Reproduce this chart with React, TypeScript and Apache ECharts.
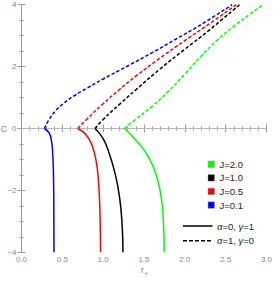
import React, { useEffect, useRef } from "react";
import * as echarts from "echarts";

const xTicks = [0, 0.5, 1, 1.5, 2, 2.5, 3];
const yTicks = [-4, -2, 0, 2, 4];

const legendLabels = ["J=2.0", "J=1.0", "J=0.5", "J=0.1"];
const legendColors = ["#00ff00", "#000000", "#ff0000", "#0000ff"];

// alpha=0, gamma=1 (solid)
const solidJ20 = [[1.26, 0], [1.4, -0.37], [1.55, -0.9], [1.65, -1.5], [1.71, -2.2], [1.738, -3.0], [1.748, -4]];
const solidJ10 = [[0.9, 0], [1.0, -0.33], [1.08, -0.85], [1.15, -1.5], [1.2, -2.2], [1.23, -3.0], [1.243, -4]];
const solidJ05 = [[0.69, 0], [0.79, -0.2], [0.86, -0.52], [0.91, -1.0], [0.94, -1.6], [0.957, -2.4], [0.965, -3.2], [0.968, -4]];
const solidJ01 = [[0.28, 0], [0.34, -0.15], [0.368, -0.42], [0.382, -0.8], [0.39, -1.3], [0.395, -2.2], [0.398, -4]];

// alpha=1, gamma=0 (dashed)
const dashedJ20 = [[1.26, 0], [1.4, 0.3], [1.6, 0.72], [1.8, 1.2], [2.0, 1.76], [2.2, 2.34], [2.4, 2.86], [2.6, 3.3], [2.8, 3.7], [2.96, 4.0]];
const dashedJ10 = [[0.9, 0], [1.0, 0.29], [1.2, 0.78], [1.4, 1.25], [1.7, 1.93], [2.0, 2.56], [2.3, 3.18], [2.67, 4.0]];
const dashedJ05 = [[0.69, 0], [0.8, 0.3], [1.0, 0.8], [1.2, 1.26], [1.4, 1.69], [1.7, 2.28], [2.0, 2.84], [2.3, 3.38], [2.63, 4.0]];
const dashedJ01 = [[0.28, 0], [0.34, 0.3], [0.42, 0.58], [0.52, 0.82], [0.64, 1.05], [0.8, 1.3], [1.0, 1.6], [1.3, 2.02], [1.6, 2.45], [1.9, 2.9], [2.2, 3.36], [2.58, 4.0]];

const solidSets = [solidJ20, solidJ10, solidJ05, solidJ01];
const dashedSets = [dashedJ20, dashedJ10, dashedJ05, dashedJ01];

const FRAME = "#9a9a9a";
const LABEL = "#888888";
const FONT = "Liberation Sans, Arial, sans-serif";

export default function App() {
  const ref = useRef<HTMLDivElement>(null);
  useEffect(() => {
    if (!ref.current) return;
    const chart = echarts.init(ref.current, null, { renderer: "svg" });
    const fmt = (v: number) => String(v).replace("-", "\u2212");
    const fmtX = (v: number) => v.toFixed(1);
    const baseAxis = {
      axisLine: { show: true, lineStyle: { color: FRAME, width: 1 } },
      axisTick: { show: true, inside: true, length: 4, lineStyle: { color: FRAME } },
      splitLine: { show: false },
    };
    const series: any[] = [
      {
        type: "line",
        data: [[0, 0], [3, 0]],
        symbol: "none",
        silent: true,
        lineStyle: { color: "#b8b8b8", width: 1 },
        z: 1,
      },
    ];
    solidSets.forEach((d, i) => {
      series.push({
        type: "line",
        data: d,
        symbol: "none",
        smooth: 0.5,
        lineStyle: { color: legendColors[i], width: 1.5 },
        z: 3,
      });
    });
    dashedSets.forEach((d, i) => {
      series.push({
        type: "line",
        data: d,
        symbol: "none",
        smooth: 0.5,
        lineStyle: { color: legendColors[i], width: 1.5, type: [3.5, 2] },
        z: 3,
      });
    });

    const graphic: any[] = [];
    legendLabels.forEach((lab, i) => {
      const cy = 164.3 + 13.6 * i;
      graphic.push({
        type: "rect",
        shape: { x: 208, y: cy - 3.3, width: 6.5, height: 6.5 },
        style: { fill: legendColors[i], stroke: "#9a9a9a", lineWidth: 0.5 },
      });
      graphic.push({
        type: "text",
        x: 219.5,
        y: cy,
        style: { text: lab, fill: "#222", font: `9.5px ${FONT}`, verticalAlign: "middle" },
      });
    });
    graphic.push({
      type: "line",
      shape: { x1: 183, y1: 226, x2: 212.5, y2: 226 },
      style: { stroke: "#000", lineWidth: 1.5 },
    });
    graphic.push({
      type: "line",
      shape: { x1: 183, y1: 240.7, x2: 212.5, y2: 240.7 },
      style: { stroke: "#000", lineWidth: 1.5, lineDash: [4, 2] },
    });
    const greekText = (a: string, g: string, y: number) => ({
      type: "text",
      x: 217,
      y,
      style: {
        text: `{i|\u03b1}=${a}, {i|\u03b3}=${g}`,
        fill: "#222",
        font: `9.5px ${FONT}`,
        verticalAlign: "middle",
        rich: { i: { fontStyle: "italic", fontSize: 9.5, fontFamily: FONT, fill: "#222" } },
      },
    });
    graphic.push(greekText("0", "1", 226));
    graphic.push(greekText("1", "0", 240.7));
    graphic.push({
      type: "text",
      x: 4,
      y: 128.5,
      style: { text: "C", fill: LABEL, font: `9px ${FONT}`, align: "center", verticalAlign: "middle" },
    });
    graphic.push({
      type: "text",
      x: 141,
      y: 270,
      style: { text: "r", fill: LABEL, font: `9px ${FONT}`, verticalAlign: "middle" },
    });
    graphic.push({
      type: "text",
      x: 144.5,
      y: 273,
      style: { text: "+", fill: LABEL, font: `6px ${FONT}`, verticalAlign: "middle" },
    });

    const xMinor = { show: true, length: 2, splitNumber: 5, lineStyle: { color: FRAME } };
    const yMinor = { show: true, length: 2, splitNumber: 4, lineStyle: { color: FRAME } };

    chart.setOption({
      animation: false,
      grid: { left: 21.5, right: 6, top: 4.7, bottom: 28.7, containLabel: false },
      xAxis: [
        {
          type: "value",
          min: xTicks[0],
          max: xTicks[xTicks.length - 1],
          interval: 0.5,
          position: "bottom",
          ...baseAxis,
          minorTick: xMinor,
          axisLabel: { color: LABEL, fontSize: 8, fontFamily: FONT, margin: 3, formatter: fmtX },
        },
        {
          type: "value",
          min: xTicks[0],
          max: xTicks[xTicks.length - 1],
          interval: 0.5,
          position: "top",
          ...baseAxis,
          minorTick: xMinor,
          axisLabel: { show: false },
        },
      ],
      yAxis: [
        {
          type: "value",
          min: yTicks[0],
          max: yTicks[yTicks.length - 1],
          interval: 2,
          position: "left",
          ...baseAxis,
          minorTick: yMinor,
          axisLabel: { color: LABEL, fontSize: 8, fontFamily: FONT, margin: 5, formatter: fmt },
        },
        {
          type: "value",
          min: yTicks[0],
          max: yTicks[yTicks.length - 1],
          interval: 2,
          position: "right",
          ...baseAxis,
          minorTick: yMinor,
          axisLabel: { show: false },
        },
      ],
      series,
      graphic,
    });
    return () => chart.dispose();
  }, []);
  return <div ref={ref} style={{ position: "absolute", left: 0, top: 0, width: 275, height: 281 }} />;
}
